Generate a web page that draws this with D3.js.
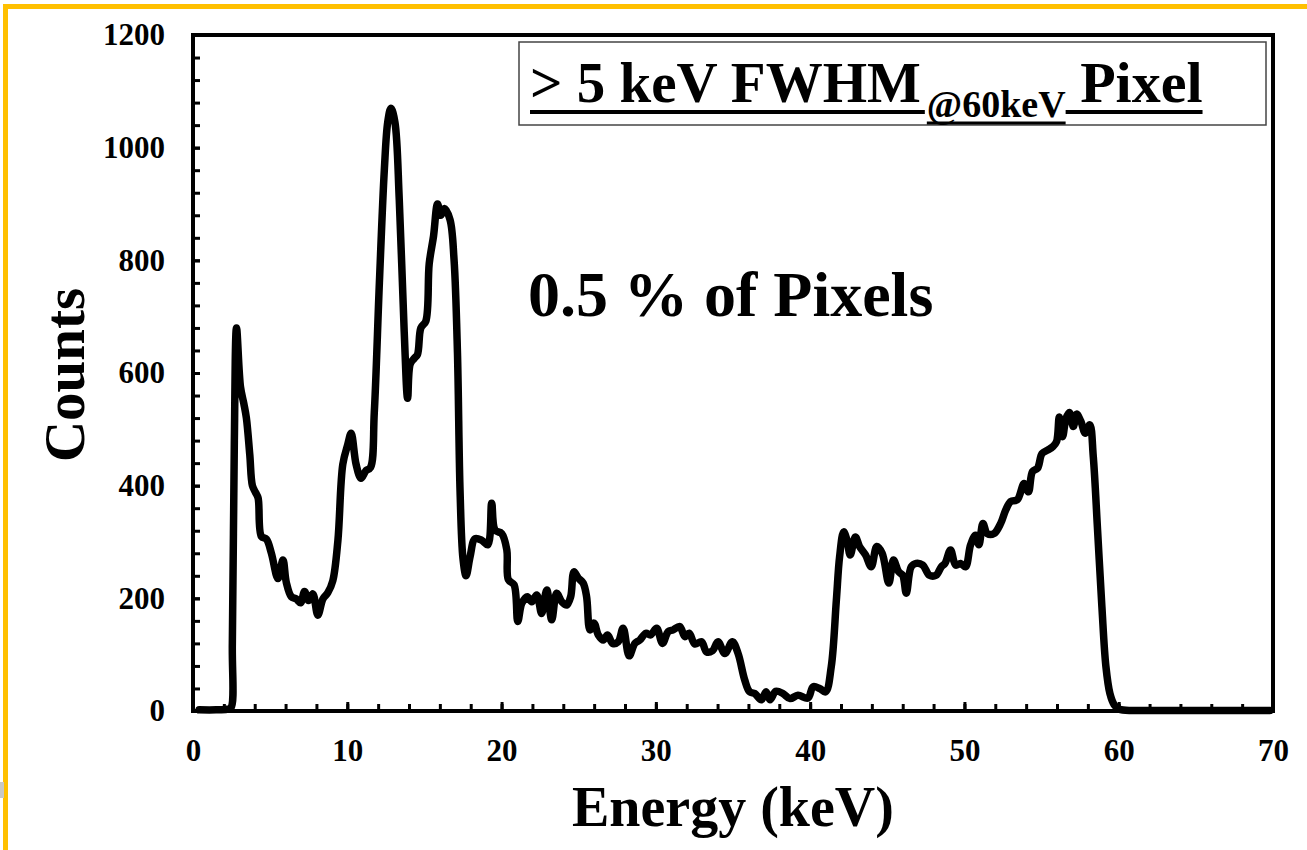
<!DOCTYPE html>
<html>
<head>
<meta charset="utf-8">
<script src="https://cdn.jsdelivr.net/npm/d3@7"></script>
<style>
  html, body { margin: 0; padding: 0; background: #fff; }
  svg { display: block; }
  text { font-family: "Liberation Serif", "Times New Roman", serif; font-weight: bold; fill: #000; }
</style>
</head>
<body>
<svg id="chart" width="1307" height="850"></svg>
<script>
// Spectrum: energy (keV) and counts
const energy = [0.4, 1.5, 2.2, 2.45, 2.55, 2.68, 2.82, 3.08, 3.3, 3.46, 3.68, 3.85, 4.05, 4.22, 4.43, 4.76, 5.08, 5.51, 5.83, 6.05,
  6.37, 6.69, 6.97, 7.23, 7.49, 7.77, 8.09, 8.42, 8.74, 9.06, 9.39, 9.71, 10.03, 10.25, 10.57, 10.89, 11.22, 11.5, 11.75, 12.08,
  12.4, 12.62, 12.83, 13.09, 13.37, 13.69, 13.91, 14.08, 14.34, 14.55, 14.77, 15.09, 15.31, 15.59, 15.85, 16.06, 16.3, 16.66, 16.92, 17.14,
  17.31, 17.5, 17.7, 17.96, 18.28, 18.72, 19.11, 19.36, 19.58, 20.01, 20.34, 20.44, 20.81, 21.05, 21.31, 21.67, 21.95, 22.28, 22.6, 22.93,
  23.25, 23.57, 23.9, 24.22, 24.48, 24.69, 24.97, 25.29, 25.51, 25.73, 25.99, 26.27, 26.59, 26.87, 27.2, 27.56, 27.88, 28.27, 28.64, 28.96,
  29.35, 29.66, 30.05, 30.43, 30.8, 31.12, 31.55, 31.88, 32.16, 32.52, 32.96, 33.28, 33.67, 34.03, 34.47, 34.96, 35.33, 35.76, 36.08, 36.41,
  36.84, 37.14, 37.4, 37.77, 38.24, 38.7, 39.21, 39.86, 40.19, 40.61, 41.0, 41.37, 41.7, 41.91, 42.17, 42.38, 42.6, 42.93, 43.2, 43.59,
  43.96, 44.32, 44.67, 45.1, 45.4, 45.74, 46.0, 46.23, 46.55, 46.87, 47.3, 47.73, 48.16, 48.5, 48.74, 49.1, 49.43, 49.75, 50.07, 50.4,
  50.72, 50.94, 51.2, 51.48, 51.92, 52.35, 52.68, 53.0, 53.43, 53.87, 54.15, 54.41, 54.74, 55.03, 55.39, 55.72, 55.97, 56.15, 56.36, 56.58,
  56.8, 57.06, 57.27, 57.55, 57.83, 58.13, 58.35, 58.63, 58.91, 59.17, 59.43, 59.71, 60.03, 61, 63, 66, 69.8];
const counts = [2, 2, 3, 5, 120, 480, 680, 575, 545, 520, 455, 400, 388, 378, 310, 305, 280, 235, 268, 228,
  203, 199, 192, 212, 196, 208, 170, 199, 210, 231, 302, 438, 473, 493, 438, 413, 427, 432, 530, 760,
  960, 1045, 1070, 1045, 907, 673, 555, 616, 626, 633, 680, 692, 794, 843, 900, 880, 892, 872, 801, 637,
  390, 270, 240, 274, 306, 303, 295, 369, 321, 315, 286, 233, 224, 159, 191, 203, 194, 206, 173, 215,
  162, 209, 194, 188, 203, 247, 236, 227, 203, 144, 156, 135, 126, 135, 120, 123, 147, 98, 120, 126,
  138, 135, 147, 120, 141, 144, 150, 132, 138, 119, 123, 105, 107, 123, 102, 123, 102, 55, 34, 31,
  20, 34, 20, 35, 31, 22, 28, 23, 43, 40, 34, 79, 197, 274, 318, 304, 277, 309, 292, 277,
  256, 292, 280, 227, 268, 247, 241, 209, 256, 262, 259, 241, 241, 256, 262, 286, 259, 262, 256, 295,
  312, 295, 333, 315, 315, 333, 357, 372, 375, 404, 389, 425, 431, 457, 463, 469, 478, 522, 487, 519,
  530, 505, 527, 514, 493, 508, 452, 321, 185, 79, 31, 11, 3, 1, 1, 1, 1];

// Axis ticks
const xMajorTicks = [0, 10, 20, 30, 40, 50, 60, 70];
const xMinorTicks = d3.range(0, 71, 2);
const yMajorTicks = [0, 200, 400, 600, 800, 1000, 1200];
const yMinorTicks = d3.range(0, 1201, 40);

// Text
const xTitle = "Energy (keV)";
const yTitle = "Counts";
const note = "0.5 % of Pixels";
const legendMain = "> 5 keV FWHM";
const legendSub = "@60keV";
const legendTail = " Pixel";

const svg = d3.select("#chart");

// Page frame
svg.append("rect").attr("x", 3).attr("y", 4).attr("width", 1304).attr("height", 5).attr("fill", "#FFC000");
svg.append("rect").attr("x", 3).attr("y", 4).attr("width", 5).attr("height", 846).attr("fill", "#FFC000");
svg.append("rect").attr("x", 0).attr("y", 782).attr("width", 4).attr("height", 16).attr("fill", "#c8c8c8");

const x = d3.scaleLinear().domain([0, 70]).range([193, 1273]);
const y = d3.scaleLinear().domain([0, 1200]).range([711, 35]);

const tickStyle = g => {
  g.select(".domain").remove();
  g.selectAll(".tick line").attr("stroke", "#000").attr("stroke-width", 3);
  g.selectAll(".tick text").attr("font-size", 31).attr("font-family", "Liberation Serif").attr("font-weight", "bold").attr("fill", "#000");
};

// Minor ticks (inside)
svg.append("g").attr("transform", "translate(0,711)")
  .call(d3.axisBottom(x).tickValues(xMinorTicks).tickSize(-7).tickFormat(""))
  .call(tickStyle);
svg.append("g").attr("transform", "translate(193,0)")
  .call(d3.axisLeft(y).tickValues(yMinorTicks).tickSize(-7).tickFormat(""))
  .call(tickStyle);

// Major ticks with labels
svg.append("g").attr("transform", "translate(0,711)")
  .call(d3.axisBottom(x).tickValues(xMajorTicks).tickSize(-9).tickPadding(28).tickFormat(d3.format("d")))
  .call(tickStyle);
svg.append("g").attr("transform", "translate(193,0)")
  .call(d3.axisLeft(y).tickValues(yMajorTicks).tickSize(-7).tickPadding(28).tickFormat(d3.format("d")))
  .call(tickStyle);

// Plot frame
svg.append("rect")
  .attr("x", x(0)).attr("y", y(1200))
  .attr("width", x(70) - x(0)).attr("height", y(0) - y(1200))
  .attr("fill", "none").attr("stroke", "#000").attr("stroke-width", 4);

// Spectrum line
const pts = energy.map((e, i) => [e, counts[i]]);
const line = d3.line()
  .x(d => x(d[0]))
  .y(d => y(d[1]))
  .curve(d3.curveCatmullRom.alpha(0.5));
svg.append("path")
  .datum(pts)
  .attr("d", line)
  .attr("fill", "none")
  .attr("stroke", "#000")
  .attr("stroke-width", 7.5)
  .attr("stroke-linejoin", "round")
  .attr("stroke-linecap", "round");

// Axis titles
svg.append("text")
  .attr("x", 733).attr("y", 826)
  .attr("text-anchor", "middle")
  .attr("font-size", 56)
  .text(xTitle);
svg.append("text")
  .attr("transform", "translate(84,375) rotate(-90)")
  .attr("text-anchor", "middle")
  .attr("font-size", 57)
  .text(yTitle);

// Annotation
svg.append("text")
  .attr("x", 528).attr("y", 316)
  .attr("font-size", 64)
  .text(note);

// Legend box
svg.append("rect")
  .attr("x", 519).attr("y", 42).attr("width", 747).attr("height", 83)
  .attr("fill", "#fff").attr("stroke", "#444").attr("stroke-width", 1.5);

const lg = svg.append("g");
const baseY = 102;
const t1 = lg.append("text").attr("x", 530).attr("y", baseY).attr("font-size", 57).text(legendMain);
const w1 = t1.node().getComputedTextLength();
const sx = 530 + w1 + 6;
const t2 = lg.append("text").attr("x", sx).attr("y", baseY + 15).attr("font-size", 38).text(legendSub);
const w2 = t2.node().getComputedTextLength();
const t3 = lg.append("text").attr("x", sx + w2).attr("y", baseY).attr("font-size", 58).attr("xml:space", "preserve").style("white-space", "pre").text(legendTail);
const w3 = t3.node().getComputedTextLength();

lg.append("line").attr("x1", 530).attr("x2", sx - 2).attr("y1", baseY + 10).attr("y2", baseY + 10).attr("stroke", "#000").attr("stroke-width", 4);
lg.append("line").attr("x1", sx).attr("x2", sx + w2).attr("y1", baseY + 21).attr("y2", baseY + 21).attr("stroke", "#000").attr("stroke-width", 3);
lg.append("line").attr("x1", sx + w2).attr("x2", sx + w2 + w3).attr("y1", baseY + 10).attr("y2", baseY + 10).attr("stroke", "#000").attr("stroke-width", 4);
</script>
</body>
</html>
